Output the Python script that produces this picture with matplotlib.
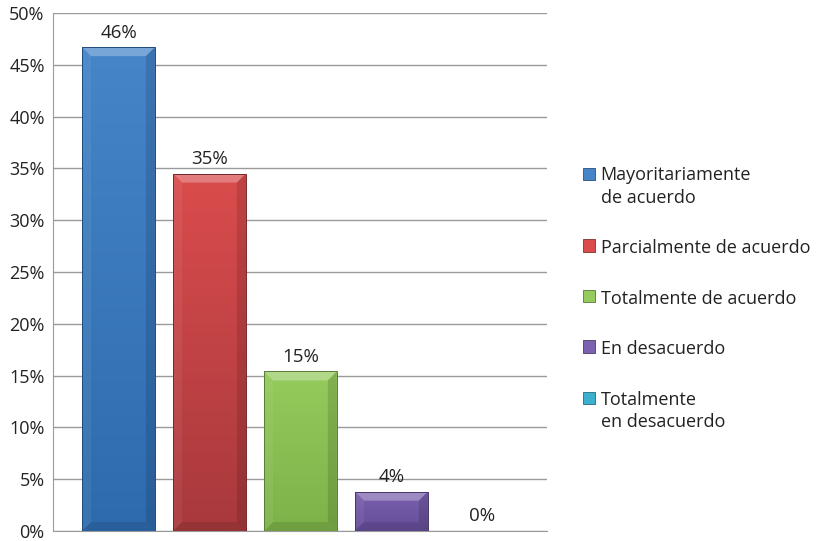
import matplotlib
matplotlib.use("Agg")
import matplotlib.pyplot as plt
from matplotlib.patches import Polygon, Patch, Rectangle
from matplotlib.legend_handler import HandlerPatch
import matplotlib.colors as mcolors
import numpy as np

categories = ["Mayoritariamente\nde acuerdo", "Parcialmente de acuerdo",
              "Totalmente de acuerdo", "En desacuerdo", "Totalmente\nen desacuerdo"]
values = [46.7, 34.5, 15.4, 3.8, 0.0]
value_labels = ["46%", "35%", "15%", "4%", "0%"]
colors_top = ["#4585C8", "#DA4C4C", "#95CA5C", "#7B61AF", "#3DB0CF"]
colors_bot = ["#2E6BAE", "#A8393D", "#7DB24A", "#654D98", "#2A93B0"]
yticks = [0, 5, 10, 15, 20, 25, 30, 35, 40, 45, 50]

plt.rcParams['font.family'] = ['Open Sans', 'DejaVu Sans']

fig = plt.figure(figsize=(8.28, 5.41), dpi=100)
ax = fig.add_axes([53/828, 10/541, 494/828, 518/541])

x = list(range(len(categories)))
bars = ax.bar(x, values, width=0.8, color=colors_top, edgecolor='none', zorder=3)

ax.set_xlim(-0.72, 4.71)
ax.set_ylim(0, 50)
ax.set_yticks(yticks)
ax.set_yticklabels([f"{t}%" for t in yticks], fontsize=13, color="#222222")
ax.set_xticks([])
ax.grid(axis='y', color='#9a9a9a', linewidth=1.0, zorder=0)
for s in ['top', 'right']:
    ax.spines[s].set_visible(False)
ax.spines['left'].set_color('#9a9a9a')
ax.spines['bottom'].set_color('#9a9a9a')
ax.tick_params(axis='y', length=0, pad=6)

fig.canvas.draw()
inv = ax.transData.inverted()
p0 = inv.transform((0, 0)); p1 = inv.transform((9, 9))
bx = p1[0] - p0[0]; by = p1[1] - p0[1]

def shade(c, f):
    r, g, b = mcolors.to_rgb(c)
    if f > 0:
        return (r + (1 - r) * f, g + (1 - g) * f, b + (1 - b) * f)
    return (r * (1 + f), g * (1 + f), b * (1 + f))

for bar, ct, cb in zip(bars, colors_top, colors_bot):
    x0 = bar.get_x(); w = bar.get_width(); h = bar.get_height()
    if h <= 0:
        continue
    x1 = x0 + w
    t = np.array(mcolors.to_rgb(ct)); b = np.array(mcolors.to_rgb(cb))
    n = 64
    grad = np.linspace(0, 1, n)[:, None] * (b - t)[None, :] + t[None, :]
    grad = grad[:, None, :]
    im = ax.imshow(grad, extent=(x0, x1, 0, h), aspect='auto', origin='upper',
                   zorder=3.5, interpolation='bilinear')
    im.set_clip_path(bar)
    byy = min(by, h / 2)
    ax.add_patch(Polygon([(x0, h), (x1, h), (x1 - bx, h - byy), (x0 + bx, h - byy)],
                         closed=True, facecolor='white', alpha=0.28, edgecolor='none', zorder=4))
    ax.add_patch(Polygon([(x0, h), (x0 + bx, h - byy), (x0 + bx, byy), (x0, 0)],
                         closed=True, facecolor='white', alpha=0.06, edgecolor='none', zorder=4))
    ax.add_patch(Polygon([(x1, h), (x1 - bx, h - byy), (x1 - bx, byy), (x1, 0)],
                         closed=True, facecolor='black', alpha=0.12, edgecolor='none', zorder=4))
    ax.add_patch(Polygon([(x0, 0), (x1, 0), (x1 - bx, byy), (x0 + bx, byy)],
                         closed=True, facecolor='black', alpha=0.10, edgecolor='none', zorder=4))
    ax.add_patch(Polygon([(x0, 0), (x1, 0), (x1, h), (x0, h)], closed=True,
                         facecolor='none', edgecolor=shade(cb, -0.3), linewidth=0.7, zorder=5))

for xi, v, lab in zip(x, values, value_labels):
    ax.annotate(lab, (xi, v), xytext=(0, 4), textcoords='offset points',
                ha='center', va='bottom', fontsize=13.5, color='#222222', zorder=6)

handles = []
for ct, lab in zip(colors_top, categories):
    p = Patch(facecolor=ct, edgecolor=shade(ct, -0.4), linewidth=0.6)
    p._nlines = lab.count("\n") + 1
    handles.append(p)

class SquareHandler(HandlerPatch):
    def create_artists(self, legend, orig_handle, xdescent, ydescent, width, height, fontsize, trans):
        s = 9.0
        extra = (getattr(orig_handle, "_nlines", 1) - 1) * 8.6
        r = Rectangle((width - s, height / 2 - s / 2 + 1 + extra), s, s,
                      facecolor=orig_handle.get_facecolor(),
                      edgecolor=orig_handle.get_edgecolor(), linewidth=0.6, transform=trans)
        return [r]

leg = fig.legend(handles, categories, loc='center left', bbox_to_anchor=(561/828, 0.448),
                 frameon=False, fontsize=13, handler_map={Patch: SquareHandler()},
                 handlelength=1.0, handletextpad=0.3, labelspacing=1.8)
for t in leg.get_texts():
    t.set_color('#222222')
    t.set_linespacing(1.3)

fig.savefig("out.png", dpi=100)
